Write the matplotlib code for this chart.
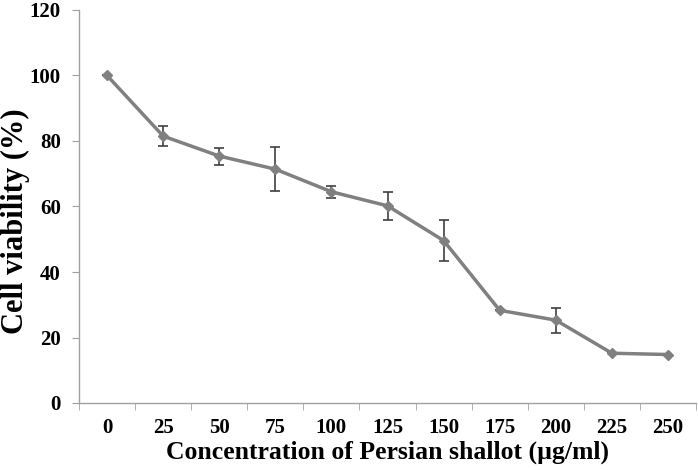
import matplotlib.pyplot as plt
import numpy as np

conc = ['0', '25', '50', '75', '100', '125', '150', '175', '200', '225', '250']
viability = [100, 81.5, 75.4, 71.4, 64.5, 60.2, 49.6, 28.3, 25.3, 15.2, 14.8]
err = [0, 3.0, 2.6, 6.7, 1.8, 4.2, 6.2, 0, 3.8, 0, 0]

plt.rcParams['font.family'] = ['Liberation Serif', 'DejaVu Serif']
plt.rcParams['font.weight'] = 'bold'

fig = plt.figure(figsize=(6.98, 4.70), dpi=100)
ax = fig.add_axes([79 / 698, 67 / 470, 617 / 698, 393 / 470])

x = np.arange(len(conc))
ax.errorbar(x, viability, yerr=err, fmt='none', ecolor='#404040',
            elinewidth=1.2, capsize=3.5, capthick=1.2, zorder=2)
ax.plot(x, viability, color='#808080', linewidth=2.5, marker='D',
        markersize=5, markerfacecolor='#808080', markeredgecolor='#808080',
        zorder=3)

ax.set_xlim(-0.5, len(conc) - 0.5)
ax.set_ylim(0, 120)
ax.set_yticks(range(0, 121, 20))
ax.set_xticks(x)
ax.set_xticklabels(conc)
ax.set_xticks(np.arange(-0.5, len(conc), 1.0), minor=True)
ax.tick_params(axis='x', which='major', length=0, pad=11, labelsize=15)
ax.tick_params(axis='x', which='minor', length=5, color='#a0a0a0',
               direction='out')
ax.tick_params(axis='y', length=5, color='#a0a0a0', direction='out',
               labelsize=15, pad=8)

for s in ['top', 'right']:
    ax.spines[s].set_visible(False)
for s in ['left', 'bottom']:
    ax.spines[s].set_color('#a0a0a0')
    ax.spines[s].set_linewidth(1.0)

ax.set_xlabel('Concentration of Persian shallot (µg/ml)', fontsize=18.5,
              fontweight='bold', labelpad=2)
# y label placed by hand so it sits at the very left edge like the original
fig.text(1 / 698, 0.529, 'Cell viability (%)', rotation=90, fontsize=22,
         fontweight='bold', ha='left', va='center')

fig.savefig('out.png', dpi=100)
